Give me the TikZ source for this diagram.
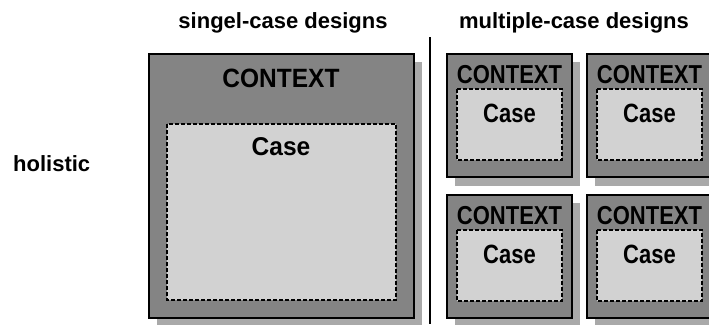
\documentclass[tikz,border=0pt]{standalone}
\usepackage{graphicx}
\usepackage{fontspec}
\setmainfont{Liberation Sans}
\definecolor{ctxgray}{HTML}{848484}
\definecolor{shadegray}{HTML}{A9A9A9}
\definecolor{casegray}{HTML}{D2D2D2}
% labels inside the boxes are set a little taller than wide
\newcommand{\tallby}[2]{\scalebox{1}[#1]{#2}}
\tikzset{
  ctxbox/.style={draw=black, line width=1.6pt, fill=ctxgray},
  shadebox/.style={fill=shadegray},
  casebox/.style={draw=black, line width=1.3pt, fill=casegray,
    dash pattern=on 4pt off 2pt},
  bigtxt/.style={inner sep=0pt, anchor=base, font=\fontsize{24.5}{28}\selectfont\bfseries},
  smalltxt/.style={inner sep=0pt, anchor=base, font=\fontsize{22}{26}\selectfont\bfseries},
  headtxt/.style={inner sep=0pt, anchor=base, font=\fontsize{22}{26}\selectfont\bfseries},
}
\begin{document}
\begin{tikzpicture}[x=1pt, y=-1pt]
  \useasboundingbox (0,0) rectangle (709,324);

  % column headings and row label
  \node[headtxt] (hsingle) at (283,28.5) {singel-case designs};
  \node[headtxt] (hmulti) at (574,28.5) {multiple-case designs};
  \node[headtxt, anchor=base west] (hholistic) at (13,171) {holistic};

  % separator between the two columns
  \coordinate (septop) at (430,37);
  \coordinate (sepbot) at (430,324);
  \draw[line width=1.6pt] (septop) -- (sepbot);

  % single-case design: one context holding one case
  \fill[shadebox] (157,62) rectangle (422,326);
  \draw[ctxbox] (149,54) rectangle (414,318);
  \draw[casebox] (167,124) rectangle (396,300);
  \node[bigtxt] (bigctx) at (281,87) {\tallby{1.08}{CONTEXT}};
  \node[bigtxt] (bigcase) at (281,155) {\tallby{1.05}{Case}};

  % multiple-case design: four contexts, each holding one case
  \foreach \x/\y/\n in {447/54/a, 587/54/b, 447/195/c, 587/195/d}{
    \fill[shadebox] (\x+8,\y+8) rectangle (\x+133,\y+132);
    \draw[ctxbox] (\x,\y) rectangle (\x+125,\y+123);
    \draw[casebox] (\x+10,\y+35) rectangle (\x+115,\y+106);
    \node[smalltxt] (ctx\n) at (\x+62.5,\y+29.5) {\tallby{1.18}{CONTEXT}};
    \node[smalltxt] (case\n) at (\x+62.5,\y+68) {\tallby{1.2}{Case}};
  }
\end{tikzpicture}
\end{document}
